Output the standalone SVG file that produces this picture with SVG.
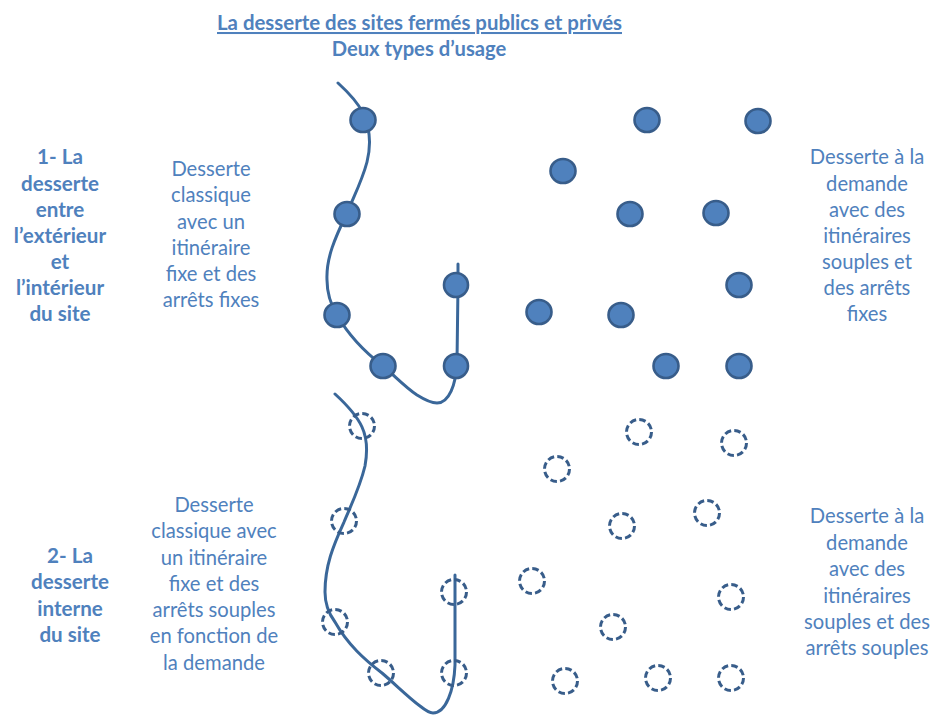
<svg xmlns="http://www.w3.org/2000/svg" width="932" height="716" viewBox="0 0 932 716">
<style>
text{font-family:Lato,"Open Sans","Liberation Sans",sans-serif;fill:#4f81bd;text-anchor:middle;font-size:20.2px}
.b{font-weight:700}
.l{font-size:20.6px}
.line{fill:none;stroke:#3a6799;stroke-width:3;stroke-linecap:round}
.stop{fill:#4f81bd;stroke:#385d8a;stroke-width:2.6}
.flex{fill:none;stroke:#385d8a;stroke-width:3;stroke-dasharray:6.6 3.2}
</style>
<rect width="932" height="716" fill="#fff"/>
<g id="connectors">
<path class="line" d="M338 83C349 93 358 103 363 113C370 128 371 146 367 162C362 181 354 196 347 213C335 238 326 258 327 280C327 293 331 305 337 315C349 336 366 353 383 366C395 376 405 387 417 395C425 400 431 403 437 403C449 403 456 385 457 362L458 285L458 264"/>
<path class="line" d="M335 394C347 405 357 416 362 427C368 440 367 455 365 466C360 487 352 503 344 522C333 546 325 566 325 592C325 604 329 614 335 622C348 645 365 660 382 673C395 684 408 697 420 706C425 710 429 713 433 713C446 713 454 690 455 665L455 592L455 575"/>
</g>
<g id="title"><text class="b" x="419.500" y="30" text-decoration="underline" style="font-size:20.4px">La desserte des sites fermés publics et privés</text>
<text class="b" x="419" y="56">Deux types d’usage</text></g>
<g id="label-1"><text class="b l"><tspan x="60" y="164">1- La</tspan><tspan x="60" y="191">desserte</tspan><tspan x="60" y="217">entre</tspan><tspan x="60" y="243">l’extérieur</tspan><tspan x="60" y="269">et</tspan><tspan x="60" y="295">l’intérieur</tspan><tspan x="60" y="321">du site</tspan></text></g>
<g id="label-2"><text class="b l"><tspan x="70" y="563">2- La</tspan><tspan x="70" y="589">desserte</tspan><tspan x="70" y="616">interne</tspan><tspan x="70" y="642">du site</tspan></text></g>
<g id="text-a"><text><tspan x="211" y="176">Desserte</tspan><tspan x="211" y="202">classique</tspan><tspan x="211" y="229">avec un</tspan><tspan x="211" y="255">itinéraire</tspan><tspan x="211" y="281">fixe et des</tspan><tspan x="211" y="307">arrêts fixes</tspan></text></g>
<g id="text-b"><text><tspan x="867" y="164">Desserte à la</tspan><tspan x="867" y="191">demande</tspan><tspan x="867" y="217">avec des</tspan><tspan x="867" y="243">itinéraires</tspan><tspan x="867" y="269">souples et</tspan><tspan x="867" y="295">des arrêts</tspan><tspan x="867" y="321">fixes</tspan></text></g>
<g id="text-c"><text><tspan x="214" y="512">Desserte</tspan><tspan x="214" y="538">classique avec</tspan><tspan x="214" y="565">un itinéraire</tspan><tspan x="214" y="591">fixe et des</tspan><tspan x="214" y="617">arrêts souples</tspan><tspan x="214" y="643">en fonction de</tspan><tspan x="214" y="670">la demande</tspan></text></g>
<g id="text-d"><text><tspan x="867" y="523">Desserte à la</tspan><tspan x="867" y="550">demande</tspan><tspan x="867" y="576">avec des</tspan><tspan x="867" y="603">itinéraires</tspan><tspan x="867" y="629">souples et des</tspan><tspan x="867" y="655">arrêts souples</tspan></text></g>
<g id="stops-fixed">
<ellipse class="stop" cx="363" cy="120" rx="12.500" ry="12"/><ellipse class="stop" cx="347" cy="214" rx="12.500" ry="12"/><ellipse class="stop" cx="337" cy="315" rx="12.500" ry="12"/><ellipse class="stop" cx="383" cy="366" rx="12.500" ry="12"/><ellipse class="stop" cx="456" cy="285" rx="12" ry="12"/><ellipse class="stop" cx="456" cy="366" rx="12" ry="12"/>
<ellipse class="stop" cx="647" cy="120" rx="12.500" ry="12"/><ellipse class="stop" cx="758" cy="121" rx="12.500" ry="12"/><ellipse class="stop" cx="563" cy="171" rx="12.500" ry="12"/><ellipse class="stop" cx="630" cy="214" rx="12.500" ry="12"/><ellipse class="stop" cx="716" cy="213" rx="12.500" ry="12"/><ellipse class="stop" cx="739" cy="285" rx="12.500" ry="12"/><ellipse class="stop" cx="539" cy="312" rx="12.500" ry="12"/><ellipse class="stop" cx="621" cy="315" rx="12.500" ry="12"/><ellipse class="stop" cx="666" cy="366" rx="12.500" ry="12"/><ellipse class="stop" cx="739" cy="366" rx="12.500" ry="12"/>
</g>
<g id="stops-flexible">
<circle class="flex" cx="362" cy="426" r="12.500"/><circle class="flex" cx="344" cy="521" r="12.500"/><circle class="flex" cx="335" cy="622" r="12.500"/><circle class="flex" cx="381" cy="673" r="12.500"/><circle class="flex" cx="454" cy="592" r="12.500"/><circle class="flex" cx="454" cy="673" r="12.500"/>
<circle class="flex" cx="639" cy="432" r="12.500"/><circle class="flex" cx="734" cy="443" r="12.500"/><circle class="flex" cx="557" cy="469" r="12.500"/><circle class="flex" cx="622" cy="526" r="12.500"/><circle class="flex" cx="707" cy="513" r="12.500"/><circle class="flex" cx="731" cy="597" r="12.500"/><circle class="flex" cx="532" cy="581" r="12.500"/><circle class="flex" cx="613" cy="627" r="12.500"/><circle class="flex" cx="565" cy="681" r="12.500"/><circle class="flex" cx="658" cy="678" r="12.500"/><circle class="flex" cx="731" cy="678" r="12.500"/>
</g>
</svg>
